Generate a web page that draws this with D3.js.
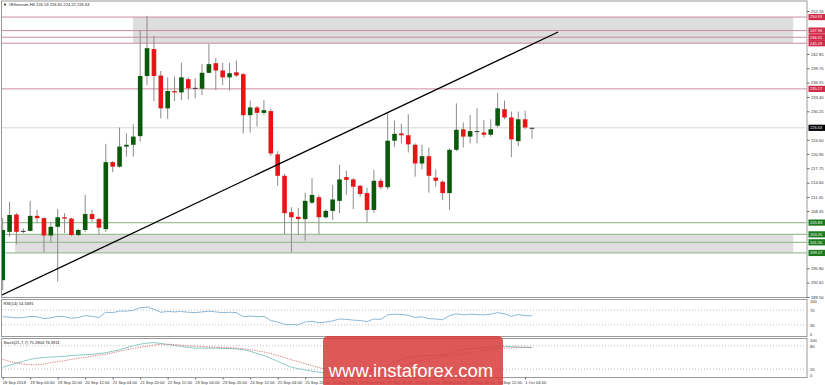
<!DOCTYPE html>
<html>
<head>
<meta charset="utf-8">
<script src="https://cdn.jsdelivr.net/npm/d3@7"></script>
<style>
  body { margin: 0; background: #fff; }
  svg { display: block; font-family: "Liberation Sans", Arial, sans-serif; }
</style>
</head>
<body>
<svg id="chart" width="825" height="385"></svg>
<script>
// ---- data ----
const symbol = '#Ethereum,H4';
const timeLabels = ['18 Sep 2018','19 Sep 04:00','19 Sep 20:00','20 Sep 12:00','21 Sep 04:00','21 Sep 20:00',
  '22 Sep 12:00','23 Sep 04:00','23 Sep 20:00','24 Sep 12:00','25 Sep 04:00','25 Sep 20:00','26 Sep 12:00',
  '27 Sep 04:00','27 Sep 20:00','28 Sep 12:00','29 Sep 04:00','29 Sep 20:00','30 Sep 12:00','1 Oct 04:00'];
const timeIdx = timeLabels.map((_, i) => i * 4);

const opens  = [193.2,203.8,207.6,203.8,204.0,207.3,206.8,203.0,204.9,207.0,206.7,203.1,204.2,207.7,206.6,204.4,219.1,218.1,222.5,222.9,
  224.8,238.0,243.9,238.1,230.9,234.7,234.4,237.3,235.4,235.2,238.7,240.8,239.2,237.7,238.8,238.4,229.4,231.1,229.9,230.3,
  220.8,216.1,208.1,207.1,206.6,210.2,211.4,207.0,208.4,210.6,215.8,215.3,213.9,212.3,208.6,215.0,213.6,223.8,225.4,225.0,
  222.9,218.8,220.4,215.7,214.8,212.3,221.8,226.3,224.7,225.9,225.6,225.1,227.1,230.7,228.9,223.7,228.5,226.53];
const highs  = [206.8,210.4,207.9,204.6,210.6,208.6,207.0,206.0,208.8,207.9,206.9,204.5,211.9,208.6,206.9,223.1,219.3,226.7,225.4,227.4,
  248.1,251.2,246.8,239.1,237.7,237.9,240.9,237.7,237.5,240.6,245.0,241.9,240.9,240.9,241.4,238.6,232.6,231.4,232.7,230.8,
  221.5,216.5,209.2,209.0,212.4,215.6,211.9,208.7,214.1,218.5,217.2,215.6,214.1,213.5,217.4,215.5,229.8,228.2,227.5,229.6,
  223.2,222.9,222.3,217.5,215.1,222.1,232.0,227.8,229.4,230.9,228.3,228.5,234.3,232.6,230.2,230.2,230.4,226.65];
const lows   = [191.0,202.7,201.1,203.5,203.9,205.7,199.3,201.5,192.9,203.5,202.9,202.9,203.8,206.0,203.1,203.8,216.9,217.9,220.3,220.3,
  223.6,236.0,232.5,228.7,228.6,232.5,232.7,232.9,233.1,233.8,238.6,234.9,236.0,234.8,237.8,225.4,225.6,226.9,229.4,220.5,
  213.9,203.3,199.3,203.1,201.9,209.9,203.3,206.7,206.4,207.9,211.9,208.8,211.5,205.9,208.0,213.1,213.1,222.4,223.2,221.2,
  215.9,217.5,212.4,213.7,210.8,208.6,221.5,222.3,223.2,223.2,224.5,224.7,226.7,228.5,220.2,222.6,226.3,224.22];
const closes = [204.2,207.5,203.8,204.0,207.3,206.8,203.0,204.9,207.0,206.7,203.1,204.2,207.7,206.6,204.7,219.1,218.1,222.5,222.9,224.7,
  238.0,244.1,238.0,230.9,234.7,234.4,237.7,235.3,235.2,238.7,240.6,239.2,237.7,238.6,238.1,229.4,231.1,229.9,230.5,221.0,
  216.1,207.9,207.0,206.6,210.6,211.9,207.0,208.4,210.9,215.3,215.2,213.7,212.1,208.6,215.0,213.6,223.8,225.3,225.0,223.0,
  218.8,220.4,216.1,215.0,212.3,221.8,226.2,224.7,225.9,225.7,225.1,226.3,230.9,228.9,224.1,228.5,226.7,226.63];

const rsi = [52,51,49,50,53,52,47,49,53,52,48,50,55,53,50,64,63,67,67,69,76,78,72,64,66,65,66,64,63,65,67,65,63,64,63,
  52,54,52,53,42,38,32,31,31,38,40,36,38,41,46,45,43,42,39,46,45,57,59,58,56,50,52,47,46,44,55,60,57,59,58,57,59,63,60,53,58,55,54.5691];
const stochK = [25,30,35,40,45,48,50,51,52,53,55,56,57,58,60,62,66,70,75,80,84,87,88,86,83,81,78,76,74,74,
  74,74,73,73,72,70,66,60,55,48,40,32,25,21,18,15,12,11,10,12,13,14,15,16,18,22,30,38,45,50,
  52,54,55,55,56,60,66,70,72,74,75,76,78,79,78,77,76,75.2804];
const stochD = [45,40,36,33,31,31,33,37,39,42,45,48,50,53,56,58,62,66,70,73,76,79,82,84,84,83,82,80,79,78,
  77,76,76,75,74,72,70,67,64,60,55,50,44,39,34,29,24,20,17,14,13,13,13,14,15,16,19,23,28,33,
  38,43,47,50,52,54,56,59,62,65,68,70,72,74,75,76,76,76.3911];

const priceTicks = [252.26,249.10,245.95,242.85,239.70,236.55,233.40,230.25,227.10,224.00,220.90,217.75,
  214.60,211.45,208.35,205.20,202.05,198.95,195.80,192.65,189.50];
const resistance = [250.93, 247.96, 246.51, 245.19, 235.17];
const support = [205.83, 203.25, 201.50, 199.17];
// zones: [from index, to index, price a, price b]
const zones = [[18.96, 115, 250.93, 245.19], [1.8, 115, 203.25, 199.17]];
const trend = [[-0.1, 189.94], [80.8, 247.65]];
const rsiLevels = [70, 30];
const stochLevels = [80, 20];

// ---- layout ----
const svg = d3.select('#chart');
const L = 2, R = 807;
const main = {top: 1, bot: 297.5};
const rp = {top: 299.5, bot: 336.5};
const sp = {top: 338.5, bot: 377.5};

const x = d3.scaleLinear().domain([0, 77]).range([2.7, 532]);
const y = d3.scaleLinear().domain([189.50, 252.26]).range([297, 11]);
const yR = d3.scaleLinear().domain([0, 100]).range([336.25, 298.75]);
const yS = d3.scaleLinear().domain([0, 100]).range([376.9, 338]);

const defs = svg.append('defs');
[['clipMain', main], ['clipRsi', rp], ['clipSt', sp]].forEach(([id, p]) => {
  defs.append('clipPath').attr('id', id).append('rect')
    .attr('x', L).attr('y', p.top).attr('width', R - L).attr('height', p.bot - p.top);
});

// panel frames
[main, rp, sp].forEach(p => {
  svg.append('rect').attr('x', L - 0.5).attr('y', p.top).attr('width', R - L + 0.5).attr('height', p.bot - p.top)
    .attr('fill', '#fff').attr('stroke', '#9a9a9a').attr('stroke-width', 1);
});

// ---- main panel ----
const g = svg.append('g').attr('clip-path', 'url(#clipMain)');

g.selectAll('.zone').data(zones).enter().append('rect')
  .attr('x', d => x(d[0])).attr('width', d => x(d[1]) - x(d[0]))
  .attr('y', d => y(d[2])).attr('height', d => y(d[3]) - y(d[2]))
  .attr('fill', '#dedede');

g.append('line').attr('x1', L).attr('x2', R)
  .attr('y1', y(closes[77])).attr('y2', y(closes[77]))
  .attr('stroke', '#d6d6d6').attr('stroke-width', 1);

g.selectAll('.res').data(resistance).enter().append('line')
  .attr('x1', L).attr('x2', R).attr('y1', d => y(d)).attr('y2', d => y(d))
  .attr('stroke', '#c98d98').attr('stroke-width', 1);
g.selectAll('.sup').data(support).enter().append('line')
  .attr('x1', L).attr('x2', R).attr('y1', d => y(d)).attr('y2', d => y(d))
  .attr('stroke', '#9fbf98').attr('stroke-width', 1.2);

const idx = d3.range(opens.length);
g.selectAll('.wick').data(idx).enter().append('line')
  .attr('x1', i => x(i)).attr('x2', i => x(i))
  .attr('y1', i => y(highs[i])).attr('y2', i => y(lows[i]))
  .attr('stroke', '#8c8c8c').attr('stroke-width', 1);
g.selectAll('.body').data(idx).enter().append('rect')
  .attr('x', i => x(i) - 2.3).attr('width', 4.6)
  .attr('y', i => y(Math.max(opens[i], closes[i])))
  .attr('height', i => Math.max(1, Math.abs(y(opens[i]) - y(closes[i]))))
  .attr('fill', i => Math.abs(closes[i] - opens[i]) < 0.25 ? '#333' : closes[i] >= opens[i] ? '#0b5a0b' : '#e51616');

g.append('line')
  .attr('x1', x(trend[0][0])).attr('y1', y(trend[0][1]))
  .attr('x2', x(trend[1][0])).attr('y2', y(trend[1][1]))
  .attr('stroke', '#000').attr('stroke-width', 1.3);

// title
svg.append('text').attr('x', 3).attr('y', 6).attr('font-size', 4).attr('fill', '#000').text('▼');
svg.append('text').attr('x', 8.5).attr('y', 6).attr('font-size', 4.1).attr('fill', '#222')
  .text(`${symbol} ${opens[77].toFixed(2)} ${highs[77].toFixed(2)} ${lows[77].toFixed(2)} ${closes[77].toFixed(2)}`);

// price axis; labels hidden under the coloured tags are left out, as on the terminal
const tagged = resistance.concat(support, [closes[77]]);
const visibleTicks = priceTicks.filter(v => !tagged.some(t => Math.abs(y(t) - y(v)) < 5.5));
const yAxis = svg.append('g').attr('transform', `translate(${R},0)`)
  .call(d3.axisRight(y).tickValues(visibleTicks).tickFormat(d3.format('.2f')).tickSize(2.5).tickPadding(1.5));
yAxis.select('.domain').remove();
yAxis.selectAll('text').attr('font-size', 4.1).attr('fill', '#333').attr('font-family', '"Liberation Sans", Arial, sans-serif');
yAxis.selectAll('line').attr('stroke', '#666');

function tag(v, col) {
  const t = svg.append('g').attr('transform', `translate(${R + 1.5},${y(v)})`);
  t.append('rect').attr('x', 0).attr('y', -3.1).attr('width', 16.5).attr('height', 6.2).attr('fill', col);
  t.append('text').attr('x', 1.5).attr('y', 1.4).attr('font-size', 4).attr('fill', '#fff').text(v.toFixed(2));
}
resistance.forEach(v => tag(v, '#cf2a48'));
support.forEach(v => tag(v, '#1d7a1d'));
tag(closes[77], '#000');

// ---- RSI panel ----
const gr = svg.append('g').attr('clip-path', 'url(#clipRsi)');
gr.selectAll('.lvl').data(rsiLevels).enter().append('line')
  .attr('x1', L).attr('x2', R).attr('y1', d => yR(d)).attr('y2', d => yR(d))
  .attr('stroke', '#bdbdbd').attr('stroke-dasharray', '1,2');
gr.append('path').datum(rsi)
  .attr('d', d3.line().x((d, i) => x(i)).y(d => yR(d)))
  .attr('fill', 'none').attr('stroke', '#8db6d3').attr('stroke-width', 1);
svg.append('text').attr('x', 3.5).attr('y', 304.5).attr('font-size', 4.1).attr('fill', '#222')
  .text(`RSI(14) ${rsi[77].toFixed(4)}`);
const rAxis = svg.append('g').attr('transform', `translate(${R},0)`)
  .call(d3.axisRight(yR).tickValues([100, 70, 30, 0]).tickSize(0).tickPadding(3));
rAxis.select('.domain').remove();
rAxis.selectAll('text').attr('font-size', 4.1).attr('fill', '#333')
  .attr('dy', d => d === 100 ? '0.9em' : d === 0 ? '-0.1em' : '0.32em');

// ---- Stochastic panel ----
const gs = svg.append('g').attr('clip-path', 'url(#clipSt)');
gs.selectAll('.lvl').data(stochLevels).enter().append('line')
  .attr('x1', L).attr('x2', R).attr('y1', d => yS(d)).attr('y2', d => yS(d))
  .attr('stroke', '#bdbdbd').attr('stroke-dasharray', '1,2');
gs.append('path').datum(stochK)
  .attr('d', d3.line().x((d, i) => x(i)).y(d => yS(d)))
  .attr('fill', 'none').attr('stroke', '#8cc9c4').attr('stroke-width', 1);
gs.append('path').datum(stochD)
  .attr('d', d3.line().x((d, i) => x(i)).y(d => yS(d)))
  .attr('fill', 'none').attr('stroke', '#d06a6a').attr('stroke-width', 0.9).attr('stroke-dasharray', '1.2,1.2');
svg.append('text').attr('x', 3.5).attr('y', 343.5).attr('font-size', 4.1).attr('fill', '#222')
  .text(`Stoch(21,7,7) ${stochK[77].toFixed(4)} ${stochD[77].toFixed(4)}`);
const sAxis = svg.append('g').attr('transform', `translate(${R},0)`)
  .call(d3.axisRight(yS).tickValues([100, 80, 20, 0]).tickSize(0).tickPadding(3));
sAxis.select('.domain').remove();
sAxis.selectAll('text').attr('font-size', 4.1).attr('fill', '#333')
  .attr('dy', d => d === 100 ? '0.9em' : d === 0 ? '-0.1em' : '0.32em');

// ---- time axis ----
const xAxis = svg.append('g').attr('transform', `translate(0,${sp.bot})`)
  .call(d3.axisBottom(x).tickValues(timeIdx).tickFormat((d, i) => timeLabels[i]).tickSize(2).tickPadding(1.2));
xAxis.select('.domain').remove();
xAxis.selectAll('text').attr('font-size', 4.1).attr('fill', '#333').attr('text-anchor', 'start').attr('dx', -0.5);
xAxis.selectAll('line').attr('stroke', '#666');

// ---- watermark ----
const wm = svg.append('g');
wm.append('rect').attr('x', 323).attr('y', 336).attr('width', 180).attr('height', 52).attr('rx', 5)
  .attr('fill', '#d83b3b').attr('opacity', 0.85);
wm.append('text').attr('x', 411).attr('y', 377).attr('text-anchor', 'middle')
  .attr('font-size', 18.5).attr('fill', '#fff').text('www.instaforex.com');
</script>
</body>
</html>
